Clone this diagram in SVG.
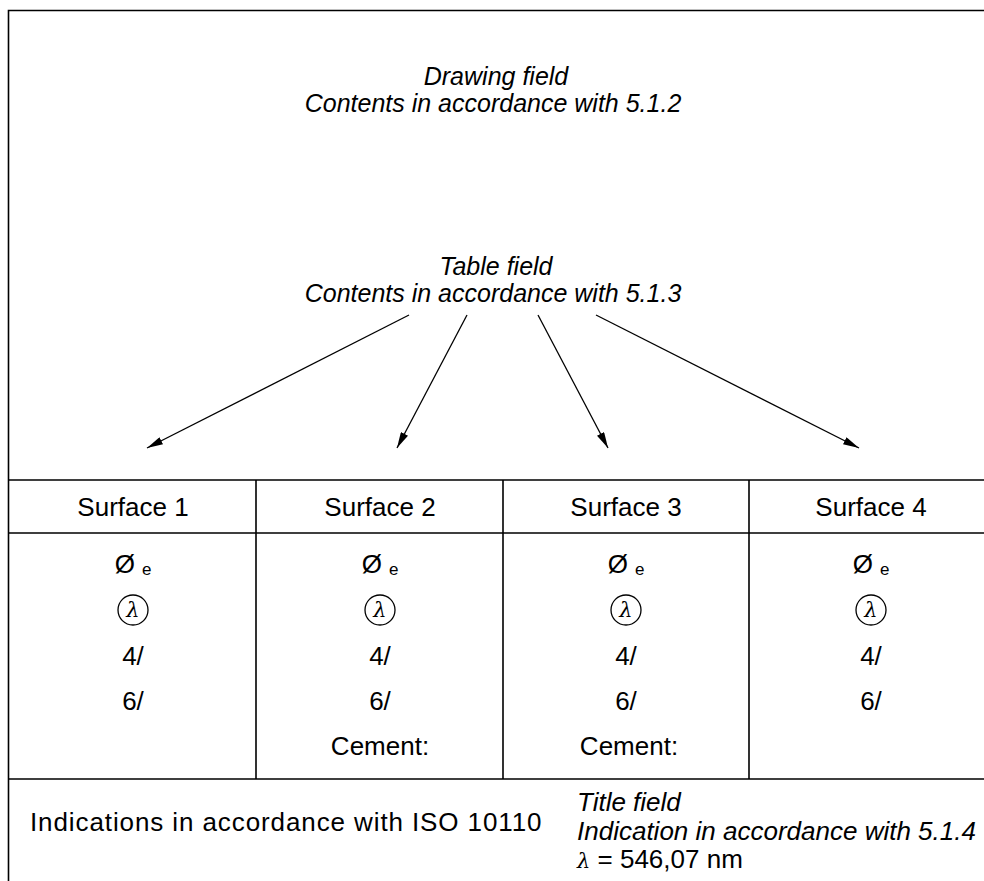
<svg xmlns="http://www.w3.org/2000/svg" width="984" height="881" viewBox="0 0 984 881">
<defs>
<style>
.t{font-family:"Liberation Sans",Arial,sans-serif;font-size:26px;fill:#000}
.h{font-size:25px}
.i{font-style:italic}
.m{text-anchor:middle}
.ln{stroke:#000;stroke-width:1.6;fill:none}
.ar{stroke:#000;stroke-width:1.3;fill:none}
.lam{font-family:"DejaVu Serif","Liberation Serif",serif;font-style:italic;font-size:21px}
</style>
<marker id="ah" viewBox="0 0 16 8" refX="16" refY="4" markerWidth="16" markerHeight="8" markerUnits="userSpaceOnUse" orient="auto">
<path d="M0,0 L16,4 L0,8 Z" fill="#000"/>
</marker>
</defs>
<rect width="984" height="881" fill="#fff"/>
<g id="frame">
<path class="ln" d="M8.5,890 V10.5 H1000"/>
<path class="ln" d="M8.5,480 H1000 M8.5,533 H1000 M8.5,779 H1000 M256,480 V779 M503,480 V779 M749,480 V779"/>
</g>
<g id="drawing-field">
<text class="t h i m" x="496" y="85">Drawing field</text>
<text class="t h i m" x="493" y="112">Contents in accordance with 5.1.2</text>
</g>
<g id="table-field">
<text class="t h i m" x="496" y="275">Table field</text>
<text class="t h i m" x="493" y="302">Contents in accordance with 5.1.3</text>
</g>
<g id="connectors">
<line class="ar" x1="409" y1="315" x2="147" y2="448" marker-end="url(#ah)"/>
<line class="ar" x1="467" y1="315" x2="397" y2="448" marker-end="url(#ah)"/>
<line class="ar" x1="538" y1="315" x2="608" y2="448" marker-end="url(#ah)"/>
<line class="ar" x1="596" y1="315" x2="859" y2="448" marker-end="url(#ah)"/>
</g>
<g id="surface-1">
<text class="t m" x="133" y="516">Surface 1</text>
<text class="t m" x="133" y="573">Ø<tspan font-size="17" dx="7" dy="2">e</tspan></text>
<circle class="ar" cx="133" cy="610" r="15"/>
<text class="lam m" x="133" y="617">λ</text>
<text class="t m" x="133" y="665">4/</text>
<text class="t m" x="133" y="710">6/</text>
</g>
<g id="surface-2">
<text class="t m" x="380" y="516">Surface 2</text>
<text class="t m" x="380" y="573">Ø<tspan font-size="17" dx="7" dy="2">e</tspan></text>
<circle class="ar" cx="380" cy="610" r="15"/>
<text class="lam m" x="380" y="617">λ</text>
<text class="t m" x="380" y="665">4/</text>
<text class="t m" x="380" y="710">6/</text>
<text class="t m" x="380" y="755">Cement:</text>
</g>
<g id="surface-3">
<text class="t m" x="626" y="516">Surface 3</text>
<text class="t m" x="626" y="573">Ø<tspan font-size="17" dx="7" dy="2">e</tspan></text>
<circle class="ar" cx="626" cy="610" r="15"/>
<text class="lam m" x="626" y="617">λ</text>
<text class="t m" x="626" y="665">4/</text>
<text class="t m" x="626" y="710">6/</text>
<text class="t m" x="629" y="755">Cement:</text>
</g>
<g id="surface-4">
<text class="t m" x="871" y="516">Surface 4</text>
<text class="t m" x="871" y="573">Ø<tspan font-size="17" dx="7" dy="2">e</tspan></text>
<circle class="ar" cx="871" cy="610" r="15"/>
<text class="lam m" x="871" y="617">λ</text>
<text class="t m" x="871" y="665">4/</text>
<text class="t m" x="871" y="710">6/</text>
</g>
<g id="indications">
<text class="t" x="30" y="831" font-size="27" letter-spacing="0.9">Indications in accordance with ISO 10110</text>
</g>
<g id="title-field">
<text class="t i" x="577" y="811">Title field</text>
<text class="t i" x="577" y="839.5">Indication in accordance with 5.1.4</text>
<text class="t" x="577" y="868"><tspan class="lam">λ</tspan> = 546,07 nm</text>
</g>
</svg>
